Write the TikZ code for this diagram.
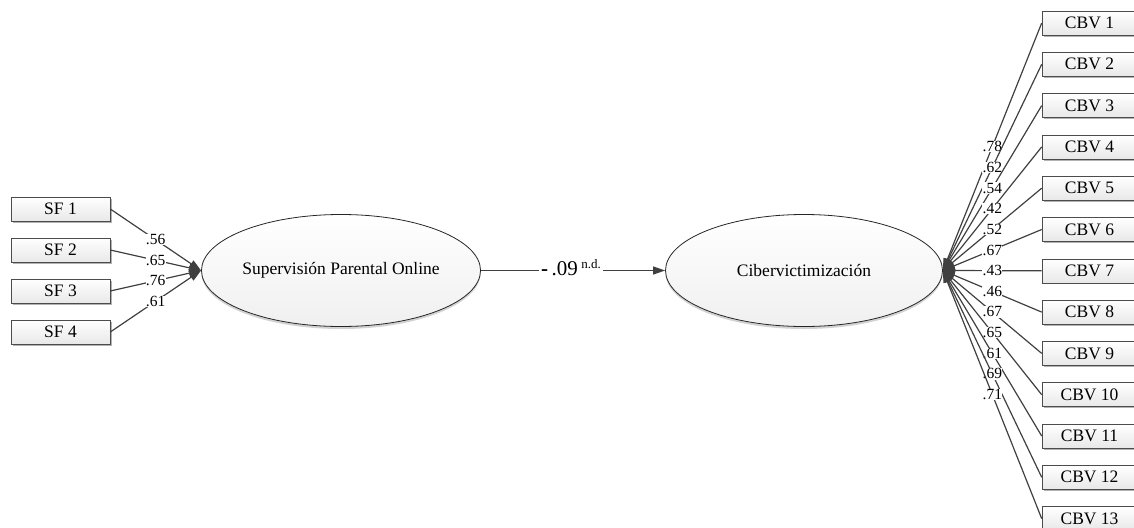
\documentclass[tikz,border=0pt]{standalone}
\usepackage{fontspec}
\setmainfont{Liberation Serif}
\usetikzlibrary{arrows.meta,shadows,shapes.geometric}
\begin{document}
\begin{tikzpicture}[x=1pt,y=-1pt,
  obs/.style={draw=gray!60!black, line width=0.6pt, top color=white, bottom color=gray!18,
    minimum height=24pt, inner sep=0pt, font=\fontsize{17.5}{20}\selectfont,
    drop shadow={shadow xshift=1.6pt, shadow yshift=-1.6pt, fill=gray!60, opacity=1}},
  lat/.style={ellipse, draw=gray!30!black, line width=0.8pt, top color=white, bottom color=gray!12,
    minimum width=277pt, minimum height=112pt, inner sep=0pt, font=\fontsize{17.5}{20}\selectfont,
    drop shadow={shadow xshift=0pt, shadow yshift=-2.5pt, fill=gray!35, opacity=1}},
  lnk/.style={draw=black!75, line width=1.2pt},
  arr/.style={lnk, -{Triangle[length=12pt,width=8pt]}},
  ld/.style={fill=white, inner sep=0.4pt, font=\fontsize{15.5}{16}\selectfont, pos=0.5}
]
\useasboundingbox (0,0) rectangle (1134,527);
% latent variables
\node[lat] (spo) at (341,270.5) {Supervisión Parental Online};
\node[lat] (cv) at (804,270.5) {Cibervictimización};
% SF indicators
\foreach \i/\y in {1/209,2/250,3/291,4/332}
  \node[obs, minimum width=99pt] (sf\i) at (60.5,\y) {SF \i};
\foreach \i/\l in {1/.56,2/.65,3/.76,4/.61}
  \draw[arr] (sf\i.east) -- node[ld]{\l} (spo.west);
% CBV indicators
\foreach \i in {1,...,13}
  \node[obs, minimum width=95pt] (cbv\i) at (1089.5,{23+41.3*(\i-1)}) {CBV \i};
\foreach \i/\l in {1/.78,2/.62,3/.54,4/.42,5/.52,6/.67,7/.43,8/.46,9/.67,10/.65,11/.61,12/.69,13/.71}
  \draw[arr] (cbv\i.west) -- node[ld]{\l} (cv.east);
% structural path
\node[inner xsep=2pt, inner ysep=0pt, minimum height=20pt, font=\fontsize{21}{22}\selectfont] (coef) at (571,268)
  {{\bfseries -}\,.09\,\raisebox{0.75ex}{\fontsize{13}{14}\selectfont n.d.}};
\draw[lnk] (spo.east) -- (spo.east -| coef.west);
\draw[arr] (cv.west -| coef.east) -- (cv.west);
\end{tikzpicture}
\end{document}
